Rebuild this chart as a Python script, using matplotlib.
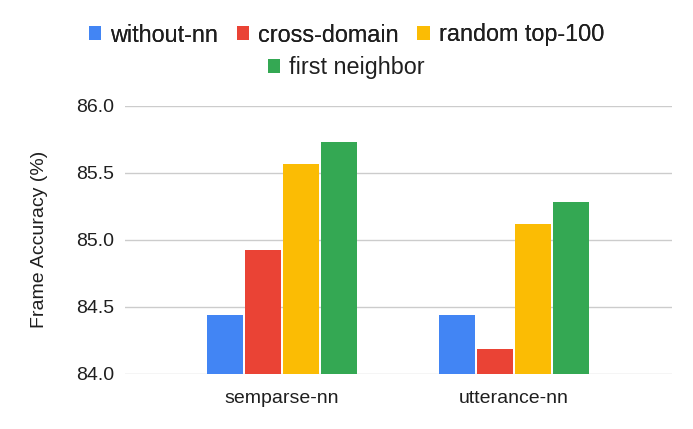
import numpy as np
import matplotlib.pyplot as plt
from matplotlib.patches import Patch

plt.rcParams['font.family'] = ['Liberation Sans', 'DejaVu Sans']

# --- Dados ---
categorias = ['semparse-nn', 'utterance-nn']
series = ['without-nn', 'cross-domain', 'random top-100', 'first neighbor']
without_nn = [84.44, 84.44]
cross_domain = [84.92, 84.18]
random_top100 = [85.57, 85.12]
first_neighbor = [85.73, 85.28]
y_ticks = [84.0, 84.5, 85.0, 85.5, 86.0]

cores = ['#4285F4', '#EA4335', '#FBBC04', '#34A853']
valores = [without_nn, cross_domain, random_top100, first_neighbor]

fig = plt.figure(figsize=(6.93, 4.29), dpi=100)
ax = fig.add_axes([125 / 693, 1 - 373.5 / 429, 547 / 693, 267.5 / 429])

x = np.arange(len(categorias))
passo = 0.1638
largura = 0.155
for i, (vals, cor) in enumerate(zip(valores, cores)):
    ax.bar(x + (i - 1.5) * passo, np.array(vals) - 84.0, bottom=84.0,
           width=largura, color=cor, zorder=3)

ax.set_xlim(-0.677, 1.681)
ax.set_ylim(84.0, 86.0)
ax.set_yticks(y_ticks)
ax.set_yticklabels([f'{v:.1f}' for v in y_ticks])
ax.set_xticks(x)
ax.set_xticklabels(categorias)
ax.tick_params(axis='both', length=0, labelsize=14, colors='#1f1f1f')
ax.tick_params(axis='y', pad=8)
ax.tick_params(axis='x', pad=12)
ax.grid(axis='y', color='#cccccc', linewidth=1, zorder=0)
for s in ax.spines.values():
    s.set_visible(False)
ax.set_ylabel('Frame Accuracy (%)', fontsize=14, color='#1f1f1f', labelpad=20)

# --- Legenda em duas linhas ---
handles = [Patch(facecolor=c, edgecolor='none') for c in cores]
estilo = dict(frameon=False, fontsize=16.8, handlelength=0.52, handleheight=0.52,
              handletextpad=0.4, columnspacing=0.8, borderpad=0,
              labelcolor='#1f1f1f')
leg1 = fig.legend(handles[:3], series[:3], ncol=3, loc='center',
                  bbox_to_anchor=(0.5, 1 - 35 / 429), **estilo)
fig.add_artist(leg1)
fig.legend(handles[3:], series[3:], ncol=1, loc='center',
           bbox_to_anchor=(0.5, 1 - 67.5 / 429), **estilo)

plt.savefig('out.png', dpi=100)
